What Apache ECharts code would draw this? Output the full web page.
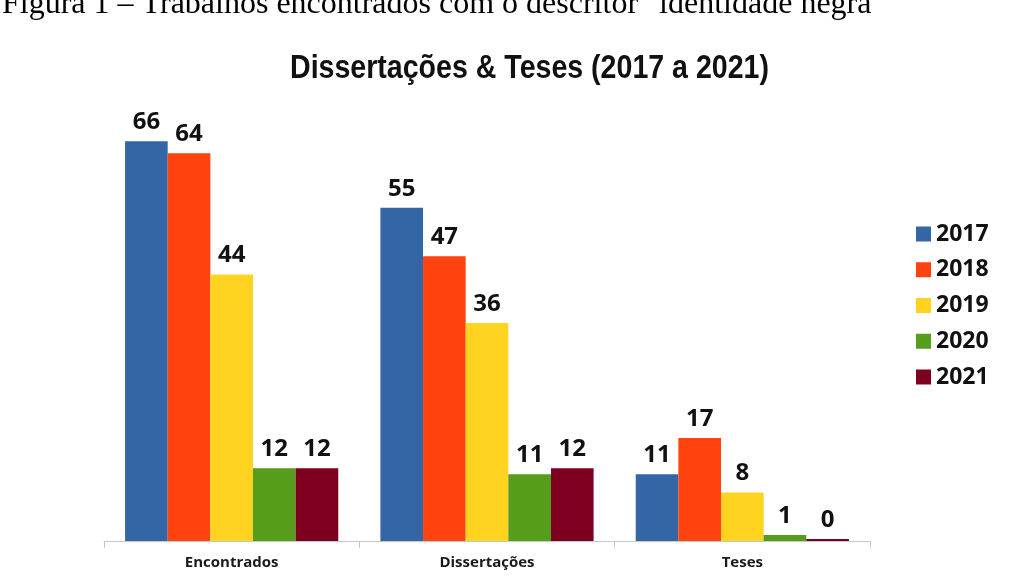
<!DOCTYPE html>
<html>
<head>
<meta charset="utf-8">
<script src="https://cdn.jsdelivr.net/npm/echarts@6/dist/echarts.min.js"></script>
<style>
html,body{margin:0;padding:0;background:#fff;}
#chart{width:1027px;height:586px;}
</style>
</head>
<body>
<div id="chart"></div>
<script>
const categories = ['Encontrados', 'Dissertações', 'Teses'];
const years = ['2017', '2018', '2019', '2020', '2021'];
const values2017 = [66, 55, 11];
const values2018 = [64, 47, 17];
const values2019 = [44, 36, 8];
const values2020 = [12, 11, 1];
const values2021 = [12, 12, 0];
const colors = ['#3465a4', '#ff420e', '#ffd320', '#579d1c', '#7e0021'];
const captionText = 'Figura 1 – Trabalhos encontrados com o descritor "identidade negra"';
const titleText = 'Dissertações & Teses (2017 a 2021)';

const seriesValues = [values2017, values2018, values2019, values2020, values2021];
const labelFont = 'Open Sans, DejaVu Sans, sans-serif';

const chart = echarts.init(document.getElementById('chart'), null, {renderer: 'canvas'});
chart.setOption({
  animation: false,
  backgroundColor: '#ffffff',
  color: colors,
  graphic: [{
    type: 'text',
    x: 2,
    y: -11,
    style: {
      text: captionText,
      fontFamily: 'Liberation Serif, serif',
      fontSize: 32,
      fill: '#000',
      textVerticalAlign: 'top'
    }
  }, {
    type: 'text',
    x: 290,
    y: 52,
    scaleX: 0.84,
    style: {
      text: titleText,
      fontFamily: 'Liberation Sans, sans-serif',
      fontWeight: 'bold',
      fontSize: 34,
      fill: '#111',
      textVerticalAlign: 'top'
    }
  }],
  legend: {
    orient: 'vertical',
    left: 911,
    top: 217.5,
    itemWidth: 15,
    itemHeight: 15,
    itemGap: 12.75,
    icon: 'rect',
    data: years,
    textStyle: {
      fontFamily: labelFont,
      fontWeight: 'bold',
      fontSize: 23,
      color: '#111'
    }
  },
  grid: {left: 104, right: 157, top: 117, bottom: 45},
  xAxis: {
    type: 'category',
    data: categories,
    axisLine: {lineStyle: {color: '#c8c8c8', width: 1}},
    axisTick: {show: true, length: 7, lineStyle: {color: '#c8c8c8'}},
    axisLabel: {
      margin: 14,
      fontFamily: 'Open Sans, sans-serif',
      fontWeight: 'bold',
      fontSize: 15,
      color: '#1a1a1a'
    }
  },
  yAxis: {
    type: 'value',
    min: 0,
    max: 70,
    show: false,
    splitLine: {show: false}
  },
  series: years.map((y, i) => ({
    name: y,
    type: 'bar',
    data: seriesValues[i],
    barGap: '0%',
    barCategoryGap: '16.5%',
    barMinHeight: 2,
    itemStyle: {color: colors[i]},
    label: {
      show: true,
      position: 'top',
      distance: 7,
      fontFamily: labelFont,
      fontWeight: 'bold',
      fontSize: 24,
      color: '#111'
    }
  }))
});
</script>
</body>
</html>
